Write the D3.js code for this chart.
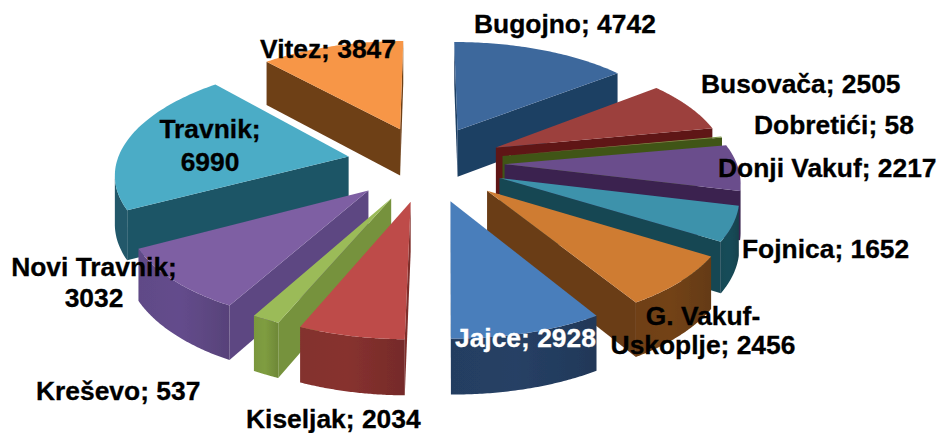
<!DOCTYPE html>
<html><head><meta charset="utf-8">
<script src="https://cdn.jsdelivr.net/npm/d3@7"></script>
<style>html,body{margin:0;padding:0;background:#fff}svg{display:block}
text{font-family:"Liberation Sans",Arial,sans-serif;font-weight:700;font-size:26.4px;stroke-width:0.3px}</style>
</head><body><svg id="c" width="942" height="433"></svg>
<script>
const categories=["Bugojno","Busovača","Dobretići","Donji Vakuf","Fojnica","G. Vakuf-Uskoplje","Jajce","Kiseljak","Kreševo","Novi Travnik","Travnik","Vitez"];
const values=[4742,2505,58,2217,1652,2456,2928,2034,537,3032,6990,3847];
const topColors=["#3d689c","#9c413e","#7c9548","#6b4e8c","#3d92ab","#cf7c33","#4a7ebb","#be4b48","#9bbb59","#7e5fa3","#4bacc6","#f79646"];
const wallColors=["#1f3f63","#5e1716","#3f5518","#3a2250","#174753","#6b3e17","#233c5e","#7e2e2c","#76923c","#5d4782","#1f5566","#6e3f17"];

// label layout: [category index, [[line, x, y, anchor],...]]
const labelLayout=[
 [0,[[null,474,33,"start"]]],
 [1,[[null,701,93,"start"]]],
 [2,[[null,754,134,"start"]]],
 [3,[[null,718,177,"start"]]],
 [4,[[null,742,258,"start"]]],
 [5,[["G. Vakuf-",703,325,"middle"],["Uskoplje; "+values[5],703,354,"middle"]]],
 [6,[[null,455,347,"start"]]],
 [7,[[null,246,428,"start"]]],
 [8,[[null,36,400,"start"]]],
 [9,[["Novi Travnik;",94,276,"middle"],[String(values[9]),94,307,"middle"]]],
 [10,[["Travnik;",210,138,"middle"],[String(values[10]),210,171,"middle"]]],
 [11,[[null,260,58,"start"]]]
];

const cx=428,cy=163,Rx=232,Ry=108,k=0.132,explode=0.35,depth=48,rightNudge=0.02;
const svg=d3.select("#c");
const defs=svg.append("defs");
const f=defs.append("filter").attr("id","soft").attr("x","-5%").attr("y","-5%").attr("width","110%").attr("height","110%");
f.append("feGaussianBlur").attr("stdDeviation",0.5);

const arcs=d3.pie().sort(null).value(d=>d)(values);
function project(X,Y,z){const s=1/(1-k*Y);return [cx+Rx*X*s,cy+Ry*Y*s+depth*Math.pow(s,0.8)*z];}
const line=d3.line();
const area2=pts=>pts.reduce((a,p,i)=>{const q=pts[(i+1)%pts.length];return a+p[0]*q[1]-q[0]*p[1];},0);

const slices=arcs.map((a,i)=>{
  const mid=(a.startAngle+a.endAngle)/2;
  const ey=-explode*Math.cos(mid);
  let ex=explode*Math.sin(mid);
  if(ex>0&&ey<0.2) ex-=rightNudge;
  const angs=d3.range(0,61).map(j=>a.startAngle+(a.endAngle-a.startAngle)*j/60);
  return {i,ex,ey,angs,rim:z=>angs.map(t=>project(ex+Math.sin(t),ey-Math.cos(t),z)),apex:z=>project(ex,ey,z)};
}).sort((a,b)=>a.ey-b.ey);

const g=svg.append("g").attr("filter","url(#soft)");
slices.forEach(s=>{
  const top=s.rim(0),bot=s.rim(1),a0=s.apex(0),a1=s.apex(1),n=top.length-1;
  const base=d3.color(wallColors[s.i]);
  const gid="w"+s.i;
  const xs=top.map(p=>p[0]);
  const grad=defs.append("linearGradient").attr("id",gid).attr("gradientUnits","userSpaceOnUse")
    .attr("x1",d3.min(xs)).attr("x2",d3.max(xs)).attr("y1",0).attr("y2",0);
  grad.append("stop").attr("offset",0).attr("stop-color",base.brighter(0.1));
  grad.append("stop").attr("offset",0.45).attr("stop-color",base.brighter(0.2));
  grad.append("stop").attr("offset",1).attr("stop-color",base.darker(0.2));
  const sg=g.append("g");
  // a wall faces the viewer when its top edge runs leftwards along the clockwise outline
  const walls=[[a0,top[0],bot[0],a1],[top[n],a0,a1,bot[n]]];
  walls.forEach(w=>{ if(area2(w)<0) sg.append("path").attr("d",line(w)+"Z").attr("fill",wallColors[s.i]); });
  // outer curved wall: one path per unbroken run of visible rim segments
  const vis=d3.range(n).filter(j=>area2([top[j],top[j+1],bot[j+1],bot[j]])<0);
  if(vis.length){
    const j0=vis[0],j1=vis[vis.length-1]+1;
    const run=[...top.slice(j0,j1+1),...bot.slice(j0,j1+1).reverse()];
    sg.append("path").attr("d",line(run)+"Z").attr("fill",`url(#${gid})`);
  }
  sg.append("path").attr("d",line([a0,...top])+"Z").attr("fill",topColors[s.i]);
});

labelLayout.forEach(([i,lines])=>{
  const col=i===6?"#fff":"#000";
  lines.forEach(([txt,x,y,anchor])=>{
    svg.append("text").attr("x",x).attr("y",y).attr("text-anchor",anchor)
      .style("fill",col).style("stroke",col)
      .text(txt===null?`${categories[i]}; ${values[i]}`:txt);
  });
});
</script></body></html>
